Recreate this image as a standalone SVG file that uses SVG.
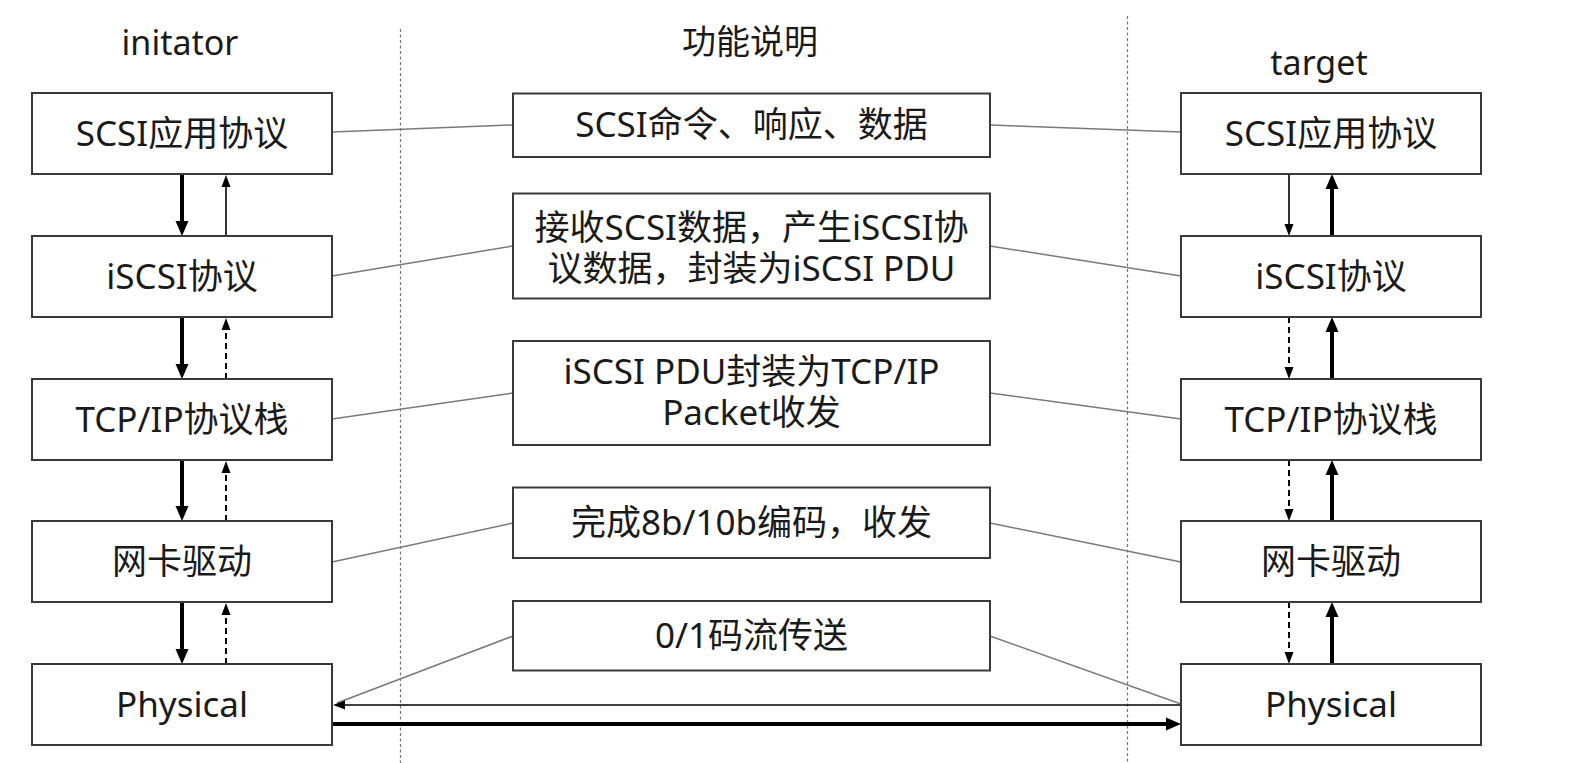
<svg xmlns="http://www.w3.org/2000/svg" width="1576" height="763" viewBox="0 0 1576 763">
<style>
.box{fill:#fff;stroke:#3a3a3a;stroke-width:2}
.t{font-family:"Noto Sans","Noto Sans CJK SC",sans-serif;font-size:35px;fill:#1a1a1a;text-anchor:middle}
.h{font-family:"Noto Sans","Noto Sans CJK SC",sans-serif;font-size:34px;fill:#1a1a1a;text-anchor:middle}
.div{stroke:#777;stroke-width:1.2;stroke-dasharray:3 2.5;fill:none}
.gl{stroke:#7a7a7a;stroke-width:1.5;fill:none}
.thick{stroke:#000;stroke-width:4;fill:none}
.thin{stroke:#000;stroke-width:1.6;fill:none}
.dash{stroke:#000;stroke-width:2;stroke-dasharray:6 4;fill:none}
</style>
<defs>
<marker id="hk" markerUnits="userSpaceOnUse" markerWidth="16" markerHeight="14" refX="0" refY="7" orient="auto"><path d="M0,0.5 L15,7 L0,13.5 z" fill="#000"/></marker>
<marker id="hn" markerUnits="userSpaceOnUse" markerWidth="13" markerHeight="11" refX="0" refY="5" orient="auto"><path d="M0,0.5 L12,5 L0,9.5 z" fill="#000"/></marker>
</defs>
<rect width="1576" height="763" fill="#fff"/>
<line class="div" x1="400.5" y1="29" x2="400.5" y2="763"/>
<line class="div" x1="1127.5" y1="16" x2="1127.5" y2="763"/>
<text class="h" x="180" y="55">initator</text>
<text class="h" x="750" y="54">功能说明</text>
<text class="h" x="1319" y="75">target</text>
<g id="connectors">
<line class="gl" x1="332" y1="132" x2="513" y2="125"/>
<line class="gl" x1="990" y1="125" x2="1181" y2="132"/>
<line class="gl" x1="332" y1="276" x2="513" y2="246"/>
<line class="gl" x1="990" y1="246" x2="1181" y2="276"/>
<line class="gl" x1="332" y1="419" x2="513" y2="393"/>
<line class="gl" x1="990" y1="393" x2="1181" y2="419"/>
<line class="gl" x1="332" y1="562" x2="513" y2="523"/>
<line class="gl" x1="990" y1="523" x2="1181" y2="562"/>
<line class="gl" x1="513" y1="636" x2="337" y2="703"/>
<line class="gl" x1="990" y1="636" x2="1181" y2="704"/>
<line class="thick" x1="182" y1="174" x2="182" y2="221" marker-end="url(#hk)"/>
<line class="thin" x1="226" y1="236" x2="226" y2="187" marker-end="url(#hn)"/>
<line class="thick" x1="182" y1="317" x2="182" y2="364" marker-end="url(#hk)"/>
<line class="dash" x1="226" y1="379" x2="226" y2="330" marker-end="url(#hn)"/>
<line class="thick" x1="182" y1="460" x2="182" y2="506" marker-end="url(#hk)"/>
<line class="dash" x1="226" y1="521" x2="226" y2="473" marker-end="url(#hn)"/>
<line class="thick" x1="182" y1="602" x2="182" y2="649" marker-end="url(#hk)"/>
<line class="dash" x1="226" y1="664" x2="226" y2="615" marker-end="url(#hn)"/>
<line class="thin" x1="1289" y1="174" x2="1289" y2="224" marker-end="url(#hn)"/>
<line class="thick" x1="1332" y1="236" x2="1332" y2="189" marker-end="url(#hk)"/>
<line class="dash" x1="1289" y1="317" x2="1289" y2="367" marker-end="url(#hn)"/>
<line class="thick" x1="1332" y1="379" x2="1332" y2="332" marker-end="url(#hk)"/>
<line class="dash" x1="1289" y1="460" x2="1289" y2="509" marker-end="url(#hn)"/>
<line class="thick" x1="1332" y1="521" x2="1332" y2="475" marker-end="url(#hk)"/>
<line class="dash" x1="1289" y1="602" x2="1289" y2="652" marker-end="url(#hn)"/>
<line class="thick" x1="1332" y1="664" x2="1332" y2="617" marker-end="url(#hk)"/>
<line class="thin" x1="1181" y1="705" x2="345" y2="705" marker-end="url(#hn)"/>
<line class="thick" x1="332" y1="724" x2="1166" y2="724" marker-end="url(#hk)"/>
</g>
<g id="l1"><rect class="box" x="32" y="93" width="300" height="81"/><text class="t" x="182" y="145.5">SCSI应用协议</text></g>
<g id="l2"><rect class="box" x="32" y="236" width="300" height="81"/><text class="t" x="182" y="288.5">iSCSI协议</text></g>
<g id="l3"><rect class="box" x="32" y="379" width="300" height="81"/><text class="t" x="182" y="431.5">TCP/IP协议栈</text></g>
<g id="l4"><rect class="box" x="32" y="521" width="300" height="81"/><text class="t" x="182" y="573.5">网卡驱动</text></g>
<g id="l5"><rect class="box" x="32" y="664" width="300" height="81"/><text class="t" x="182" y="716.5">Physical</text></g>
<g id="r1"><rect class="box" x="1181" y="93" width="300" height="81"/><text class="t" x="1331" y="145.5">SCSI应用协议</text></g>
<g id="r2"><rect class="box" x="1181" y="236" width="300" height="81"/><text class="t" x="1331" y="288.5">iSCSI协议</text></g>
<g id="r3"><rect class="box" x="1181" y="379" width="300" height="81"/><text class="t" x="1331" y="431.5">TCP/IP协议栈</text></g>
<g id="r4"><rect class="box" x="1181" y="521" width="300" height="81"/><text class="t" x="1331" y="573.5">网卡驱动</text></g>
<g id="r5"><rect class="box" x="1181" y="664" width="300" height="81"/><text class="t" x="1331" y="716.5">Physical</text></g>
<g id="m1"><rect class="box" x="513" y="93.5" width="477" height="63.5"/><text class="t" x="751.5" y="137">SCSI命令、响应、数据</text></g>
<g id="m2"><rect class="box" x="513" y="193.5" width="477" height="105"/><text class="t"><tspan x="751.5" y="240">接收SCSI数据，产生iSCSI协</tspan><tspan x="751.5" y="281">议数据，封装为iSCSI PDU</tspan></text></g>
<g id="m3"><rect class="box" x="513" y="341" width="477" height="104"/><text class="t"><tspan x="751.5" y="383.5">iSCSI PDU封装为TCP/IP</tspan><tspan x="751.5" y="425">Packet收发</tspan></text></g>
<g id="m4"><rect class="box" x="513" y="487.5" width="477" height="70.5"/><text class="t" x="751.5" y="535">完成8b/10b编码，收发</text></g>
<g id="m5"><rect class="box" x="513" y="601" width="477" height="69.5"/><text class="t" x="751.5" y="648">0/1码流传送</text></g>
</svg>
